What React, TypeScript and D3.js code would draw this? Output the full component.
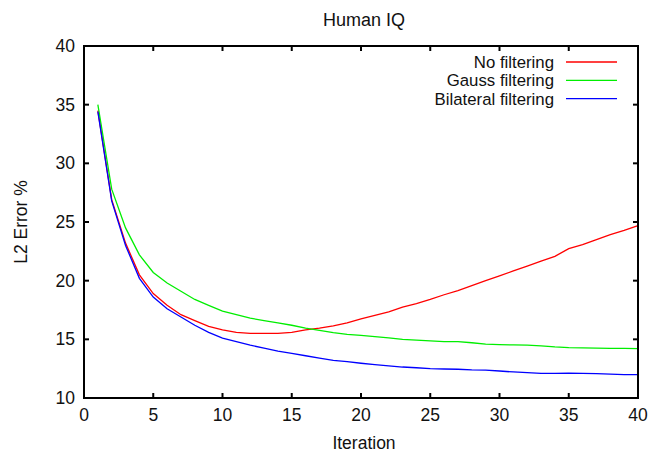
import React, { useEffect, useRef } from 'react';
import * as d3 from 'd3';

// Values, iterations 1..40
const iterations = d3.range(1, 41);

const noFiltering = [
  34.5, 26.9, 23.2, 20.5, 18.9, 17.9, 17.1, 16.6, 16.1, 15.8,
  15.6, 15.5, 15.5, 15.5, 15.6, 15.8, 15.95, 16.15, 16.4, 16.75,
  17.05, 17.35, 17.75, 18.05, 18.4, 18.8, 19.16, 19.57, 20.0, 20.41,
  20.83, 21.24, 21.66, 22.07, 22.73, 23.07, 23.5, 23.92, 24.29, 24.7,
];
const gaussFiltering = [
  35.0, 27.8, 24.5, 22.2, 20.7, 19.8, 19.1, 18.4, 17.9, 17.4,
  17.1, 16.8, 16.6, 16.4, 16.2, 15.95, 15.77, 15.57, 15.43, 15.34,
  15.23, 15.12, 15.0, 14.94, 14.86, 14.8, 14.8, 14.71, 14.6, 14.55,
  14.52, 14.5, 14.45, 14.36, 14.3, 14.27, 14.25, 14.23, 14.23, 14.2,
];
const bilateralFiltering = [
  34.4, 26.8, 23.0, 20.2, 18.6, 17.6, 16.9, 16.2, 15.6, 15.1,
  14.8, 14.5, 14.25, 14.0, 13.8, 13.6, 13.4, 13.2, 13.1, 12.96,
  12.84, 12.73, 12.64, 12.58, 12.5, 12.47, 12.45, 12.4, 12.38, 12.3,
  12.22, 12.16, 12.1, 12.1, 12.12, 12.1, 12.07, 12.03, 12.0, 12.0,
];

const seriesNames = ['No filtering', 'Gauss filtering', 'Bilateral filtering'];
const seriesColors = ['#ff0000', '#00ee00', '#0000ff'];
const xTicks = [0, 5, 10, 15, 20, 25, 30, 35, 40];
const yTicks = [10, 15, 20, 25, 30, 35, 40];

const W = 652, H = 454;
const M = { top: 46, right: 14, bottom: 56, left: 84 };
const FONT = '"Liberation Sans", Arial, sans-serif';

export default function App() {
  const svgRef = useRef<SVGSVGElement>(null);

  useEffect(() => {
    const svg = d3.select(svgRef.current);
    svg.selectAll('*').remove();

    const x = d3.scaleLinear().domain([0, 40]).range([M.left, W - M.right]);
    const y = d3.scaleLinear().domain([10, 40]).range([H - M.bottom, M.top]);

    const all = [noFiltering, gaussFiltering, bilateralFiltering];
    const line = d3.line<number>().x((_, i) => x(iterations[i])).y(d => y(d));

    all.forEach((vals, k) => {
      svg.append('path')
        .attr('d', line(vals))
        .attr('fill', 'none')
        .attr('stroke', seriesColors[k])
        .attr('stroke-width', 1.3);
    });

    // ticks, inward, mirrored on top and right
    const tl = 5;
    const tg = svg.append('g').attr('stroke', '#000').attr('stroke-width', 2);
    xTicks.slice(1, -1).forEach(t => {
      tg.append('line').attr('x1', x(t)).attr('x2', x(t)).attr('y1', y(10)).attr('y2', y(10) - tl);
      tg.append('line').attr('x1', x(t)).attr('x2', x(t)).attr('y1', y(40)).attr('y2', y(40) + tl);
    });
    yTicks.slice(1, -1).forEach(t => {
      tg.append('line').attr('x1', x(0)).attr('x2', x(0) + tl).attr('y1', y(t)).attr('y2', y(t));
      tg.append('line').attr('x1', x(40)).attr('x2', x(40) - tl).attr('y1', y(t)).attr('y2', y(t));
    });

    svg.append('rect')
      .attr('x', x(0)).attr('y', y(40))
      .attr('width', x(40) - x(0)).attr('height', y(10) - y(40))
      .attr('fill', 'none').attr('stroke', '#000').attr('stroke-width', 2);

    const txt = svg.append('g').attr('font-family', FONT).attr('fill', '#111');

    xTicks.forEach(t => {
      txt.append('text').attr('x', x(t)).attr('y', y(10) + 23)
        .attr('text-anchor', 'middle').attr('font-size', 17.5).text(t);
    });
    yTicks.forEach(t => {
      txt.append('text').attr('x', x(0) - 9).attr('y', y(t) + 6)
        .attr('text-anchor', 'end').attr('font-size', 17.5).text(t);
    });

    txt.append('text').attr('x', (x(0) + x(40)) / 2 + 3).attr('y', 26)
      .attr('text-anchor', 'middle').attr('font-size', 18).text('Human IQ');
    txt.append('text').attr('x', (x(0) + x(40)) / 2 + 3).attr('y', 449)
      .attr('text-anchor', 'middle').attr('font-size', 17.5).text('Iteration');
    txt.append('text')
      .attr('transform', `translate(27,${(y(10) + y(40)) / 2}) rotate(-90)`)
      .attr('text-anchor', 'middle').attr('font-size', 17.5).text('L2 Error %');

    // legend
    seriesNames.forEach((name, k) => {
      const ly = 62 + k * 18.3;
      txt.append('text').attr('x', 554).attr('y', ly + 6)
        .attr('text-anchor', 'end').attr('font-size', 16.8).text(name);
      svg.append('line').attr('x1', 566).attr('x2', 617).attr('y1', ly).attr('y2', ly)
        .attr('stroke', seriesColors[k]).attr('stroke-width', 1.3);
    });
  }, []);

  return (
    <svg ref={svgRef} width={W} height={H}
      style={{ position: 'absolute', left: 0, top: 0, background: '#fff' }} />
  );
}
